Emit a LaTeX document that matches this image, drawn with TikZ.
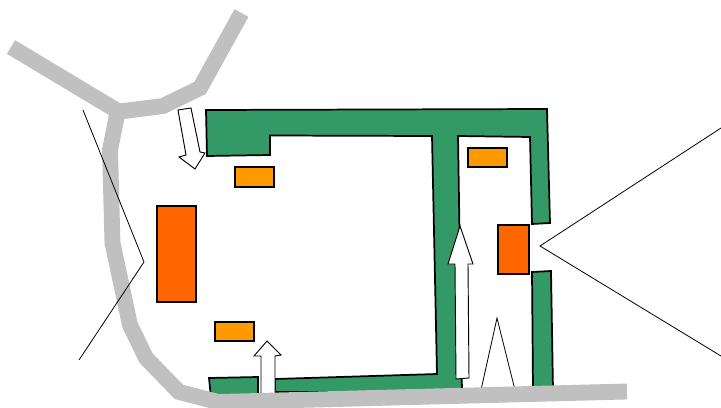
\documentclass[tikz,border=0pt]{standalone}
\definecolor{wallgreen}{HTML}{339966}
\definecolor{boxorange}{HTML}{FF9900}
\definecolor{boxred}{HTML}{FF6600}
\definecolor{roadgray}{HTML}{C0C0C0}
\tikzset{
  wall/.style={draw=black,fill=wallgreen,line width=1.3pt,line join=miter},
  smallbox/.style={draw=black,fill=boxorange,line width=1.3pt},
  bigbox/.style={draw=black,fill=boxred,line width=1.3pt},
  road/.style={draw=roadgray,line width=11.9pt,line join=miter},
  thin line/.style={draw=black,line width=0.6pt},
  flow/.style={draw=black,fill=white,line width=0.7pt,line join=miter}
}
\begin{document}
\begin{tikzpicture}[x=0.75pt,y=-0.75pt]
\useasboundingbox (0,0) rectangle (721,407);
\fill[white] (0,0) rectangle (721,407);
% thin lines under the road
\draw[thin line] (721,128) -- (540,246) -- (721,356);
\draw[thin line] (481,390) -- (497,318) -- (515,390);
% walls
\draw[wall] (206,110) -- (547,109) -- (550,223) -- (532,224) -- (530,137) -- (458,136)
  -- (462,392) -- (275,392) -- (275,379) -- (437,374) -- (432,136) -- (270,135.5)
  -- (270,155) -- (207,156) -- cycle;
\draw[wall] (209,378) -- (258,377) -- (258,398) -- (211,398) -- cycle;
\draw[wall] (532,272) -- (551,271) -- (553,390) -- (533,390) -- cycle;
% boxes
\draw[bigbox] (157,206) rectangle (196,302);
\draw[bigbox] (498,225) rectangle (529,274);
\draw[smallbox] (235,167) rectangle (274,187);
\draw[smallbox] (215,322) rectangle (254,341);
\draw[smallbox] (468,148) rectangle (507,167);
% arrows
\draw[flow] (178,110) -- (191,108) -- (200,152) -- (205,153) -- (195,169) -- (179,157) -- (186,155) -- cycle;
\draw[flow] (261,398) -- (261,356) -- (254,356) -- (267,341) -- (281,355) -- (275,356) -- (275,398) -- cycle;
\draw[flow] (456,379) -- (455,264) -- (448,264) -- (460,226) -- (473,264) -- (468,264) -- (469,378) -- cycle;
% roads
\draw[road] (11,47) -- (121,113);
\draw[road] (116,112) -- (163,106) -- (200,88) -- (241.5,13);
\draw[road] (118,110) -- (110,150) -- (112.5,243) -- (130,325) -- (146,358) -- (179,392) -- (218,402) -- (627,391.5);
% thin line over the road
\draw[thin line] (83,110) -- (144,262) -- (79,360);
\end{tikzpicture}
\end{document}
